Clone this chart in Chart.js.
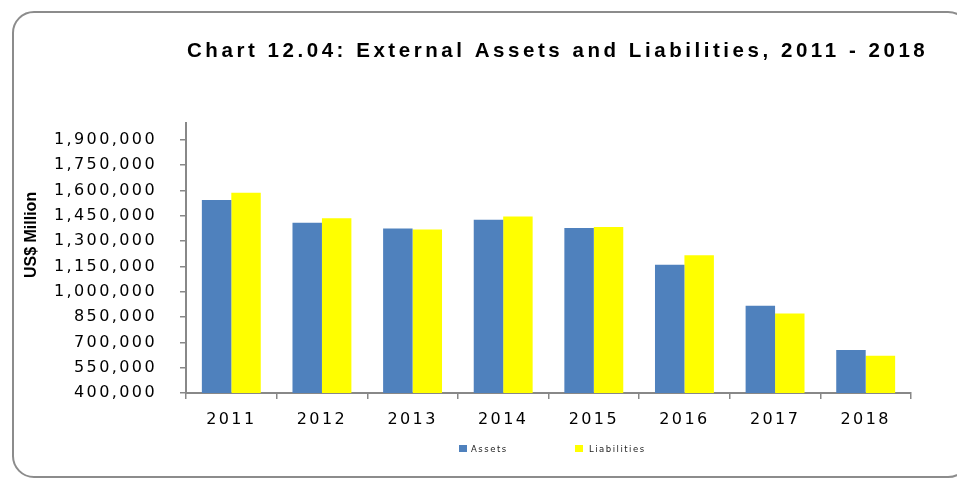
<!DOCTYPE html>
<html>
<head>
<meta charset="utf-8">
<script src="https://cdn.jsdelivr.net/npm/chart.js@4.4.1/dist/chart.umd.min.js"></script>
<style>
  body { margin: 0; background: #fff; }
  #wrap { position: relative; width: 957px; height: 479px; overflow: hidden; }
  #frame { position: absolute; left: 12px; top: 11px; width: 958px; height: 467px; box-sizing: border-box;
           border: 2px solid #8c8c8c; border-radius: 22px; }
  #grafico { position: absolute; left: 0; top: 0; }
  .item { position: absolute; top: 443px; height: 12px; line-height: 12px; white-space: nowrap;
          font-family: 'DejaVu Sans'; font-size: 8.5px; letter-spacing: 1.5px; color: #222; }
  .caixa { position: absolute; left: 0; top: 2px; width: 8px; height: 7px; }
  .item span { position: absolute; top: 0; }
</style>
</head>
<body>
<div id="wrap">
  <div id="frame"></div>
  <canvas id="grafico" width="957" height="479"></canvas>
</div>
<script>
// Dados do gráfico
var years = ['2011', '2012', '2013', '2014', '2015', '2016', '2017', '2018'];
var assets = [1543000, 1409000, 1375000, 1427000, 1378000, 1159000, 917000, 654000];
var liabilities = [1586000, 1435000, 1368000, 1445000, 1384000, 1216000, 871000, 621000];
var yTicks = [400000, 550000, 700000, 850000, 1000000, 1150000, 1300000, 1450000, 1600000, 1750000, 1900000];
var seriesNames = ['Assets', 'Liabilities'];
var seriesColors = ['#4F81BD', '#FFFF00'];

// legenda em html (posicoes: caixa, texto)
var legendPos = [[459, 12], [575, 14]];
var wrap = document.getElementById('wrap');
seriesNames.forEach(function (name, i) {
  var item = document.createElement('div');
  item.className = 'item';
  item.style.left = legendPos[i][0] + 'px';
  item.innerHTML = '<div class="caixa" style="background:' + seriesColors[i] + '"></div>' +
    '<span style="left:' + legendPos[i][1] + 'px">' + name + '</span>';
  wrap.appendChild(item);
});

// espaçamento entre letras (o original é esticado na horizontal)
function spaced(obj, method, px, dx, dy) {
  if (!obj || obj['_sp_' + method]) return;
  var orig = obj[method];
  obj[method] = function () {
    var ctx = this.ctx;
    ctx.save();
    ctx.letterSpacing = px + 'px';
    ctx.translate(dx || 0, dy || 0);
    orig.apply(this, arguments);
    ctx.restore();
  };
  obj['_sp_' + method] = true;
}

var spacing = {
  id: 'spacing',
  beforeDraw: function (chart) {
    spaced(chart.titleBlock, 'draw', 3.55, 167, 0);
    spaced(chart.scales.x, 'drawLabels', 2.4, 0, 0);
    spaced(chart.scales.y, 'drawLabels', 2.4, 0, 0);
    spaced(chart.scales.y, 'drawTitle', 0, 0, -23);
  }
};

var ctx = document.getElementById('grafico').getContext('2d');

var data = {
  labels: years,
  datasets: [{
    label: seriesNames[0],
    data: assets,
    backgroundColor: seriesColors[0],
    borderWidth: 0
  }, {
    label: seriesNames[1],
    data: liabilities,
    backgroundColor: seriesColors[1],
    borderWidth: 0
  }]
};

var options = {
  responsive: false,
  animation: false,
  layout: { padding: { left: 20, right: 46, top: 20, bottom: 0 } },
  datasets: { bar: { categoryPercentage: 0.65, barPercentage: 1 } },
  scales: {
    x: {
      grid: { display: true, drawOnChartArea: false, drawTicks: true, tickLength: 6, color: '#888', lineWidth: 1.5 },
      border: { color: '#888', width: 2 },
      ticks: {
        color: '#000', padding: 11, autoSkip: false, maxRotation: 0,
        font: { family: 'DejaVu Sans', size: 16 }
      },
      afterFit: function (scale) { scale.height = 86; }
    },
    y: {
      min: 400000,
      max: 2000000,
      grid: { display: true, drawOnChartArea: false, drawTicks: true, tickLength: 6, color: '#888', lineWidth: 1.5 },
      border: { color: '#888', width: 2 },
      afterBuildTicks: function (scale) {
        scale.ticks = yTicks.map(function (v) { return { value: v }; });
      },
      ticks: {
        color: '#000', padding: 23,
        font: { family: 'DejaVu Sans', size: 16 },
        callback: function (v) { return v.toLocaleString('en-US'); }
      },
      title: {
        display: true,
        text: 'US$ Million',
        color: '#000',
        padding: { top: 2, bottom: 0 },
        font: { family: 'Liberation Sans', weight: 'bold', size: 16 }
      },
      afterFit: function (scale) { scale.width = 166; }
    }
  },
  plugins: {
    legend: { display: false },
    tooltip: { enabled: false },
    title: {
      display: true,
      align: 'start',
      text: 'Chart 12.04: External Assets and Liabilities, 2011 - 2018',
      color: '#000',
      font: { family: 'Liberation Sans', weight: 'bold', size: 20.5 },
      padding: { top: 18.7, bottom: 59.6 }
    }
  }
};

var myBarChart = new Chart(ctx, {
  type: 'bar',
  data: data,
  options: options,
  plugins: [spacing]
});
</script>
</body>
</html>
